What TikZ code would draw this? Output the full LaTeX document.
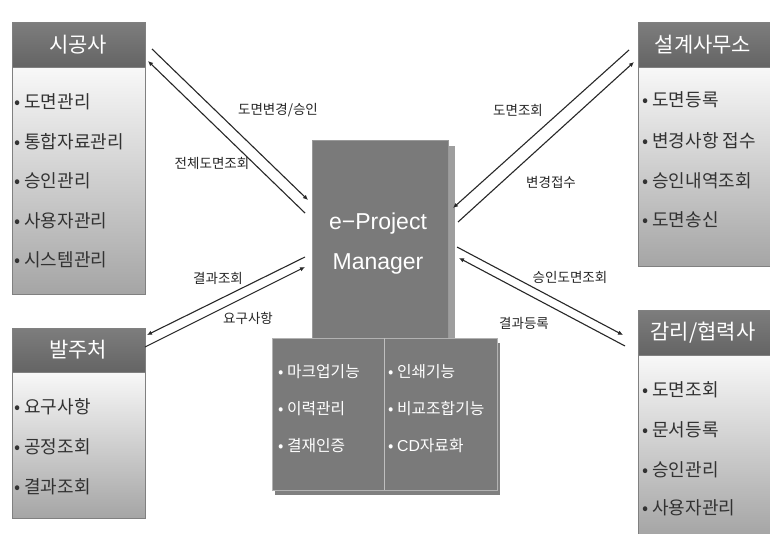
\documentclass[tikz,border=0pt]{standalone}
\usepackage{fontspec}
\setmainfont{Noto Sans CJK KR}
\newfontfamily\lat{Liberation Sans}
\usetikzlibrary{arrows.meta}
\definecolor{hdrc}{RGB}{100,100,100}
\definecolor{hdrtop}{RGB}{125,125,125}
\definecolor{pmc}{RGB}{122,122,122}
\definecolor{bodytop}{RGB}{248,248,248}
\definecolor{bodybot}{RGB}{165,165,165}
\definecolor{edgec}{RGB}{128,128,128}
\definecolor{itemc}{RGB}{50,50,50}
\definecolor{linec}{RGB}{40,40,40}
\tikzset{
  hdr/.style={anchor=north west, draw=edgec, line width=0.8pt, top color=hdrtop, bottom color=hdrc, inner sep=0pt},
  hdrtext/.style={text=white, font=\fontsize{21}{21}\selectfont, inner sep=0pt},
  bodybox/.style={anchor=north west, draw=edgec, line width=0.8pt, top color=bodytop, bottom color=bodybot, inner sep=0pt},
  item/.style={anchor=west, text=itemc, font=\fontsize{18}{18}\selectfont, inner sep=0pt},
  sitem/.style={anchor=west, text=white, font=\fontsize{15.8}{15.8}\selectfont, inner sep=0pt},
  lbl/.style={text=black!85, font=\fontsize{13.5}{13.5}\selectfont, inner sep=0pt},
  conn/.style={draw=linec, line width=1.1pt},
  tip/.style={-{Latex[length=5pt,width=4.5pt]}}
}
\begin{document}
\begin{tikzpicture}[x=1pt,y=-1pt]
\useasboundingbox (0,0) rectangle (770,533);
\fill[white] (0,0) rectangle (770,533);

% ---------- center box ----------
\fill[black!38] (315,146) rectangle (455,338);
\node[anchor=north west, fill=pmc, draw=black!40, line width=0.5pt, minimum width=136pt, minimum height=198pt, inner sep=0pt] (pm) at (312,140) {};
\node[text=white, align=center, font=\lat\fontsize{23}{40}\selectfont, inner sep=0pt] (pmt) at (378,244) {e−Project\\Manager};

% ---------- lower function box ----------
\fill[black!50] (275,343) rectangle (500,495);
\node[anchor=north west, fill=pmc, draw=black!30, line width=0.6pt, minimum width=225pt, minimum height=152pt, inner sep=0pt] (fn) at (272,338) {};
\draw[white!75!black, line width=0.8pt] (384,338) -- (384,490);
\node[sitem] (f1) at (278,372) {• 마크업기능};
\node[sitem] (f2) at (278,409) {• 이력관리};
\node[sitem] (f3) at (278,446) {• 결재인증};
\node[sitem] (f4) at (388,372) {• 인쇄기능};
\node[sitem] (f5) at (388,409) {• 비교조합기능};
\node[sitem] (f6) at (388,446) {• {\lat CD}자료화};

% ---------- 시공사 ----------
\node[bodybox, minimum width=133pt, minimum height=227pt] (sgb) at (12,67) {};
\node[hdr, minimum width=133pt, minimum height=45pt] (sg) at (12,22) {};
\node[hdrtext] (sgt) at (78,45) {시공사};
\node[item] (s1) at (14,102) {• 도면관리};
\node[item] (s2) at (14,142) {• 통합자료관리};
\node[item] (s3) at (14,181) {• 승인관리};
\node[item] (s4) at (14,221) {• 사용자관리};
\node[item] (s5) at (14,260) {• 시스템관리};

% ---------- 발주처 ----------
\node[bodybox, minimum width=133pt, minimum height=146pt] (bjb) at (12,372) {};
\node[hdr, minimum width=133pt, minimum height=44pt] (bj) at (12,328) {};
\node[hdrtext] (bjt) at (78,350) {발주처};
\node[item] (b1) at (14,407) {• 요구사항};
\node[item] (b2) at (14,447) {• 공정조회};
\node[item] (b3) at (14,487) {• 결과조회};

% ---------- 설계사무소 ----------
\node[bodybox, minimum width=132pt, minimum height=199pt] (sjb) at (638,67) {};
\node[hdr, minimum width=132pt, minimum height=45pt] (sj) at (638,22) {};
\node[hdrtext] (sjt) at (703,45) {설계사무소};
\node[item] (d1) at (642,100) {• 도면등록};
\node[item] (d2) at (642,141) {• 변경사항 접수};
\node[item] (d3) at (642,181) {• 승인내역조회};
\node[item] (d4) at (642,220) {• 도면송신};

% ---------- 감리/협력사 ----------
\node[bodybox, minimum width=132pt, minimum height=180pt] (gmb) at (638,355) {};
\node[hdr, minimum width=132pt, minimum height=45pt] (gm) at (638,310) {};
\node[hdrtext] (gmt) at (703,333) {감리/협력사};
\node[item] (g1) at (642,390) {• 도면조회};
\node[item] (g2) at (642,430) {• 문서등록};
\node[item] (g3) at (642,470) {• 승인관리};
\node[item] (g4) at (642,508) {• 사용자관리};

% ---------- connector end points ----------
\coordinate (a1s) at (152,49);  \coordinate (a1e) at (308,200);
\coordinate (a2s) at (305,213); \coordinate (a2e) at (148,61);
\coordinate (b1s) at (629,50);  \coordinate (b1e) at (453,208);
\coordinate (b2s) at (458,222); \coordinate (b2e) at (634,62);
\coordinate (c1s) at (305,257); \coordinate (c1e) at (147,335);
\coordinate (c2s) at (145,347); \coordinate (c2e) at (305,267);
\coordinate (d1s) at (457,247); \coordinate (d1e) at (623,335);
\coordinate (d2s) at (625,346); \coordinate (d2e) at (459,258);

\draw[conn,tip] (a1s) -- (a1e);
\draw[conn,tip] (a2s) -- (a2e);
\draw[conn,tip] (b1s) -- (b1e);
\draw[conn,tip] (b2s) -- (b2e);
\draw[conn,tip] (c1s) -- (c1e);
\draw[conn,tip] (c2s) -- (c2e);
\draw[conn,tip] (d1s) -- (d1e);
\draw[conn,tip] (d2s) -- (d2e);

% ---------- labels ----------
\node[lbl] (la1) at (278,110) {도면변경/승인};
\node[lbl] (la2) at (212,163) {전체도면조회};
\node[lbl] (lb1) at (518,110) {도면조회};
\node[lbl] (lb2) at (551,182) {변경접수};
\node[lbl] (lc1) at (218,278) {결과조회};
\node[lbl] (lc2) at (248,318) {요구사항};
\node[lbl] (ld1) at (570,277) {승인도면조회};
\node[lbl] (ld2) at (524,323) {결과등록};
\end{tikzpicture}
\end{document}
